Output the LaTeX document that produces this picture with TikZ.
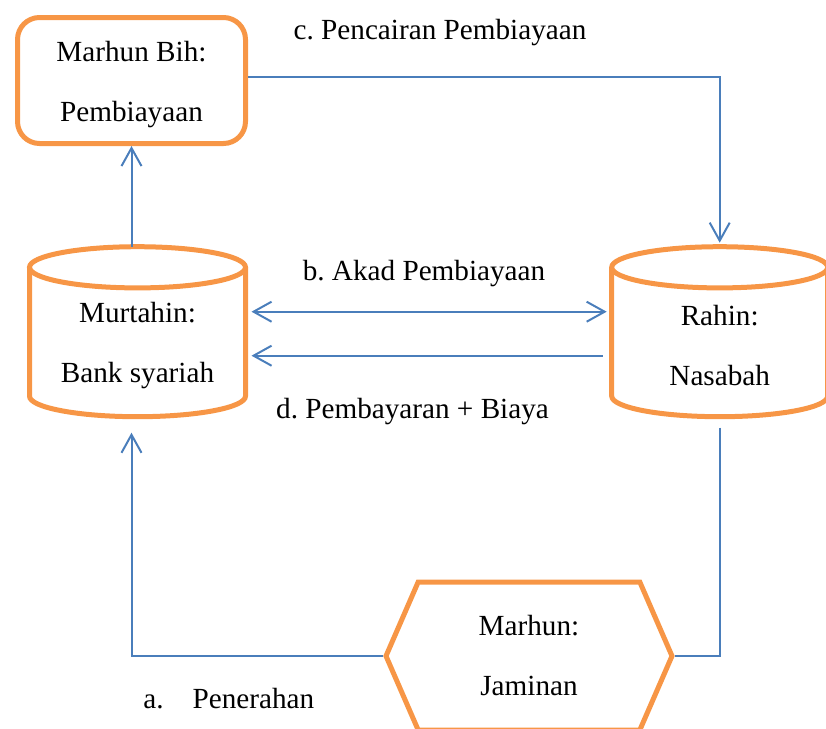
\documentclass[tikz,border=0pt]{standalone}
\usepackage{fontspec}
\setmainfont{Liberation Serif}
\usepackage{tikz}
\usetikzlibrary{shapes.geometric, shapes.symbols, arrows.meta, positioning, calc}
\definecolor{gadai}{HTML}{F79646}
\definecolor{alur}{HTML}{4A7EBB}
\frenchspacing
%% struts that push the text a little lower in its shape
\newcommand{\atastabung}{\rule{0pt}{24pt}}
\newcommand{\ataskotak}{\rule{0pt}{13.7pt}}
\tikzset{
  %% Rounded box
  rbox/.style={
    rectangle, rounded corners=11pt,
    draw=gadai, line width=2.5pt, align=center,
    minimum width=114pt, minimum height=63pt
  },
  %% Cylinder body (outline drawn after the nodes)
  tabung/.style={
    rectangle, align=center, outer sep=0pt,
    minimum width=108pt, minimum height=85pt
  },
  tepi/.style={draw=gadai, line width=2.5pt},
  %% Hexagon for the collateral
  heks/.style={
    signal, signal to=west and east, signal pointer angle=133,
    draw=gadai, line width=2.5pt, align=center,
    minimum width=143pt, minimum height=74pt
  },
  %% Arrows
  arr/.style={-{Straight Barb[length=9pt,width=10pt]},
              draw=alur, line width=1pt},
  darr/.style={{Straight Barb[length=9pt,width=10pt]}-%
               {Straight Barb[length=9pt,width=10pt]},
               draw=alur, line width=1pt},
  garis/.style={draw=alur, line width=1pt},
}

\begin{document}
\begin{tikzpicture}[x=0.5pt, y=-0.5pt,
                    every node/.style={font=\fontsize{14.6}{30}\selectfont}]

  \useasboundingbox (0,0) rectangle (826,729);

  %% Parties
  \node[rbox]   (bih)    at (131.5,80.5)  {\ataskotak Marhun Bih:\\Pembiayaan};
  \node[tabung] (murt)   at (137.5,331.7) {\atastabung Murtahin:\\Bank syariah};
  \node[tabung] (rahin)  at (719.7,331.7) {\atastabung Rahin:\\Nasabah};
  \node[heks]   (marhun) at (529,656)     {Marhun:\\Jaminan};

  %% Cylinder outlines
  \foreach \n in {murt, rahin} {
    \draw[tepi] ([yshift=-10.3pt]\n.north)
      ellipse [x radius=54pt, y radius=10.3pt];
    \draw[tepi] ([yshift=-10.3pt]\n.north west)
      -- ([yshift=10.3pt]\n.south west)
      arc [start angle=180, end angle=360, x radius=54pt, y radius=10.3pt]
      -- ([yshift=-10.3pt]\n.north east);
  }

  %% Labels
  \node[anchor=base] (lc) at (440,39)    {c. Pencairan Pembiayaan};
  \node[anchor=base] (lb) at (424,280)   {b. Akad Pembiayaan};
  \node[anchor=base] (ld) at (412.5,418) {d. Pembayaran + Biaya};
  \node[anchor=base west, inner sep=0pt] (la) at (143,708)
       {a.\hspace{14.5pt}Penerahan};

  %% Arrows
  \draw[arr] (bih.south |- murt.north) -- (bih.south);
  \draw[arr, shorten >=2pt] ([yshift=1.75pt]bih.east) -| (rahin.north);
  \draw[darr, shorten <=3pt, shorten >=2.5pt]
       ($(murt.east)+(0,-20)$) -- ($(rahin.west)+(0,-20)$);
  \draw[arr, shorten <=4.5pt, shorten >=3pt]
       ($(rahin.west)+(0,24)$) -- ($(murt.east)+(0,24)$);
  \draw[garis, shorten <=5.5pt] (rahin.south) |- (marhun.east);
  \draw[arr, shorten >=8pt] (marhun.west) -| (bih.south |- murt.south);

\end{tikzpicture}
\end{document}
